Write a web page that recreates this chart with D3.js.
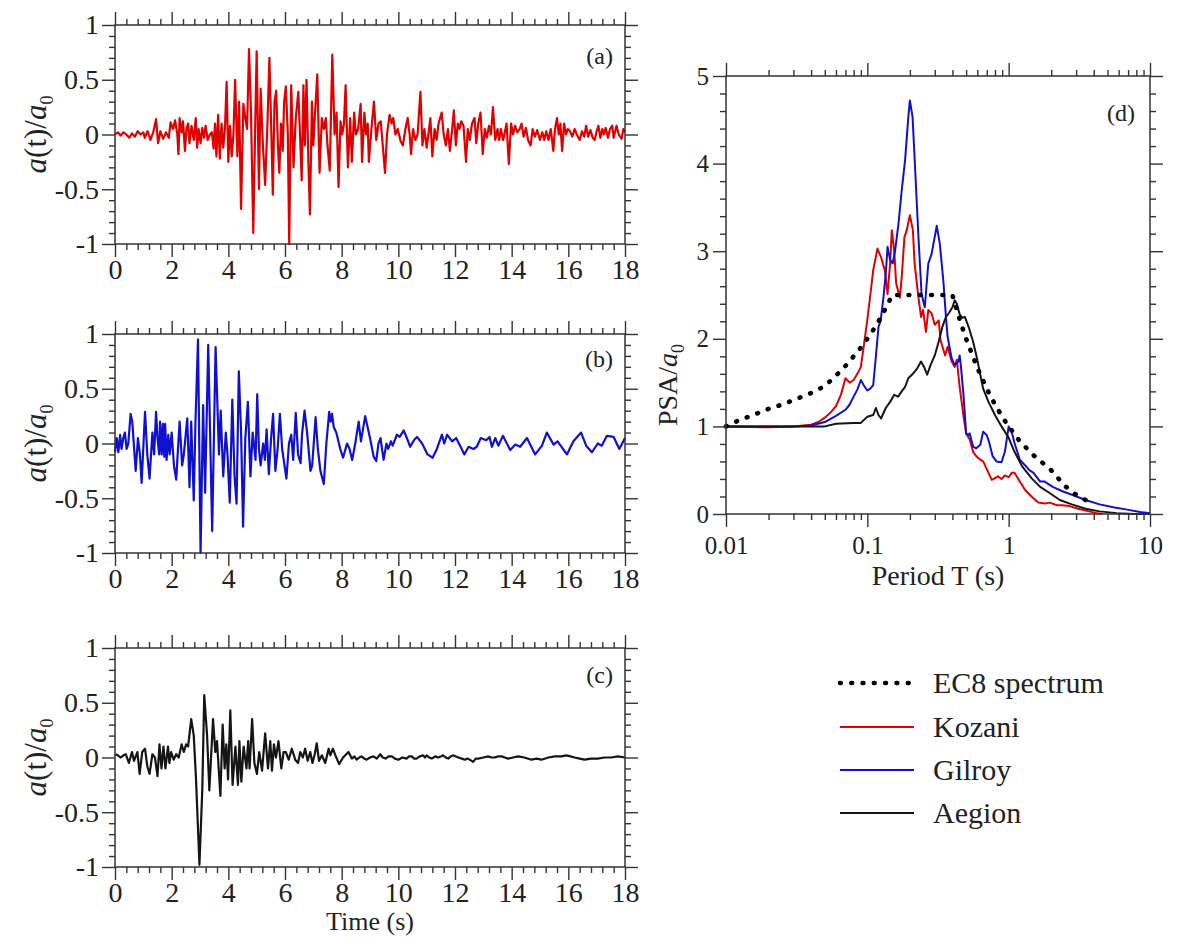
<!DOCTYPE html>
<html>
<head>
<meta charset="utf-8">
<script src="https://cdn.jsdelivr.net/npm/d3@7"></script>
<style>
  body { margin: 0; background: #fff; }
  svg { display: block; }
  text { font-family: "Liberation Serif", "Times New Roman", serif; fill: #222; }
</style>
</head>
<body>
<svg id="chart" width="1182" height="941"></svg>
<script>
// ---- Normalised acceleration histories a(t)/a0, as [time (s), value] vertices ----
const kozaniAcc = [[0,0],[0.1,0.02],[0.2,-0.01],[0.3,0.02],[0.4,0],[0.5,-0.03],[0.6,0.01],[0.7,-0.02],[0.8,0.03],[0.9,0.0],[1.0,0.02],[1.05,-0.03],[1.15,0.03],[1.25,-0.05],[1.35,0.02],[1.45,0.14],[1.52,-0.08],[1.6,0.03],[1.7,-0.04],[1.8,0.02],[1.9,-0.03],[1.96,0.11],[2.05,0.05],[2.12,0.13],[2.2,0.0],[2.24,-0.18],[2.28,0.15],[2.35,0.02],[2.4,0.12],[2.47,-0.15],[2.52,0.05],[2.58,0.1],[2.63,-0.08],[2.7,0.08],[2.78,-0.05],[2.85,0.15],[2.9,-0.12],[2.95,0.05],[3.02,-0.08],[3.08,0.06],[3.14,-0.03],[3.2,0.08],[3.27,-0.05],[3.35,0.0],[3.42,0.02],[3.48,-0.13],[3.53,0.1],[3.58,-0.2],[3.64,0.18],[3.7,-0.22],[3.76,0.1],[3.82,-0.12],[3.88,0.05],[3.94,0.48],[4.0,-0.25],[4.06,0.08],[4.12,-0.2],[4.18,0.0],[4.24,0.5],[4.32,-0.2],[4.38,0.3],[4.45,-0.68],[4.53,0.28],[4.6,0.15],[4.66,0.05],[4.73,0.78],[4.8,0.2],[4.88,-0.9],[4.95,0.1],[5.0,0.76],[5.08,-0.5],[5.14,0.42],[5.22,-0.1],[5.3,-0.46],[5.38,0.1],[5.45,0.7],[5.52,0.0],[5.57,-0.55],[5.63,0.3],[5.69,0.4],[5.75,-0.1],[5.8,-0.35],[5.86,0.1],[5.92,-0.15],[5.97,0.3],[6.03,0.44],[6.1,0.0],[6.15,-1.0],[6.22,0.45],[6.3,-0.3],[6.38,0.15],[6.47,0.39],[6.53,0.0],[6.59,-0.42],[6.65,0.45],[6.7,-0.1],[6.76,0.5],[6.82,-0.2],[6.88,-0.73],[6.95,0.3],[7.0,-0.1],[7.05,0.15],[7.14,0.55],[7.22,-0.35],[7.3,0.15],[7.37,0.05],[7.44,0.15],[7.5,-0.1],[7.58,-0.33],[7.67,0.73],[7.75,0.0],[7.82,0.2],[7.89,-0.48],[7.96,0.12],[8.02,0.0],[8.08,0.1],[8.14,0.45],[8.22,-0.3],[8.3,0.15],[8.36,-0.25],[8.44,0.2],[8.5,0.0],[8.58,0.05],[8.67,0.28],[8.72,-0.25],[8.8,0.2],[8.86,0.0],[8.92,0.1],[8.96,-0.25],[9.05,0.05],[9.14,0.3],[9.22,-0.05],[9.3,0.1],[9.38,0.12],[9.45,-0.1],[9.53,-0.35],[9.6,0.0],[9.69,0.18],[9.76,0.1],[9.82,0.15],[9.9,0.0],[9.98,0.05],[10.08,-0.06],[10.16,-0.1],[10.25,0.05],[10.33,0.15],[10.4,0.0],[10.45,-0.18],[10.52,0.05],[10.6,-0.05],[10.68,0.0],[10.78,0.39],[10.85,-0.1],[10.92,0.05],[11.0,-0.12],[11.06,0.0],[11.13,0.15],[11.2,-0.2],[11.28,0.05],[11.35,-0.05],[11.42,0.1],[11.53,0.2],[11.6,0.0],[11.68,-0.1],[11.75,0.05],[11.82,-0.15],[11.9,0.05],[11.96,0.22],[12.03,-0.1],[12.1,0.1],[12.16,0.05],[12.22,0.12],[12.3,0.08],[12.39,-0.25],[12.45,0.05],[12.52,-0.05],[12.6,0.1],[12.69,0.15],[12.75,-0.08],[12.82,0.1],[12.9,0.2],[12.98,-0.18],[13.05,0.05],[13.12,-0.03],[13.2,0.08],[13.27,0.0],[13.34,0.25],[13.42,-0.05],[13.5,0.05],[13.56,-0.05],[13.62,0.05],[13.7,-0.05],[13.76,0.02],[13.82,0.1],[13.9,-0.27],[13.98,0.1],[14.05,0.0],[14.12,0.08],[14.2,0.02],[14.28,0.05],[14.35,0.1],[14.42,-0.02],[14.5,0.06],[14.58,-0.05],[14.67,-0.1],[14.74,0.05],[14.82,-0.02],[14.9,0.04],[15.0,-0.05],[15.08,0.02],[15.15,-0.05],[15.22,0.03],[15.3,-0.05],[15.38,0.05],[15.47,-0.15],[15.53,0.05],[15.6,0.15],[15.66,0.0],[15.72,0.1],[15.78,-0.15],[15.85,0.1],[15.92,0.0],[15.98,0.05],[16.06,0.03],[16.14,-0.02],[16.22,0.05],[16.3,0.0],[16.4,-0.05],[16.48,0.03],[16.56,-0.02],[16.63,0.08],[16.7,-0.02],[16.78,0.04],[16.86,-0.03],[16.93,-0.05],[17.0,0.03],[17.06,0.08],[17.13,-0.03],[17.2,0.05],[17.25,0.0],[17.32,0.06],[17.4,-0.03],[17.47,0.05],[17.55,0.08],[17.6,-0.03],[17.7,0.08],[17.78,0.0],[17.88,-0.04],[17.94,0.05],[18.0,0.02]];

const gilroyAcc = [[0,-0.08],[0.06,0.05],[0.12,-0.08],[0.18,0.08],[0.23,-0.05],[0.29,0.05],[0.35,0.1],[0.41,-0.05],[0.47,0.0],[0.55,0.27],[0.61,0.2],[0.73,-0.25],[0.81,0.05],[0.88,-0.1],[0.94,-0.36],[1.06,0.29],[1.14,-0.1],[1.22,-0.32],[1.32,0.1],[1.38,-0.1],[1.45,0.29],[1.5,0.05],[1.56,-0.1],[1.59,0.2],[1.65,-0.1],[1.69,0.18],[1.74,-0.12],[1.77,0.18],[1.82,-0.15],[1.88,0.08],[1.93,-0.1],[2.0,0.1],[2.08,-0.2],[2.16,-0.33],[2.28,0.2],[2.37,-0.2],[2.43,-0.1],[2.55,0.23],[2.63,-0.4],[2.69,0.2],[2.78,-0.52],[2.84,0.2],[2.93,0.95],[3.02,-1.0],[3.11,0.35],[3.18,-0.45],[3.29,0.9],[3.43,-0.8],[3.55,0.88],[3.67,-0.1],[3.73,0.3],[3.82,-0.3],[3.91,0.1],[3.97,-0.1],[4.05,-0.54],[4.14,0.4],[4.22,-0.3],[4.29,-0.55],[4.37,0.66],[4.45,0.1],[4.52,-0.76],[4.6,0.05],[4.69,0.38],[4.78,-0.3],[4.86,0.1],[4.96,-0.15],[5.02,0.45],[5.08,-0.05],[5.14,-0.2],[5.23,0.0],[5.29,-0.15],[5.35,0.13],[5.43,-0.28],[5.51,0.05],[5.58,0.27],[5.66,-0.25],[5.74,-0.05],[5.82,0.27],[5.9,-0.05],[6.05,-0.32],[6.14,0.0],[6.22,0.08],[6.29,-0.15],[6.38,0.28],[6.46,-0.1],[6.55,-0.18],[6.6,0.08],[6.69,0.3],[6.78,0.1],[6.9,-0.25],[6.96,-0.2],[7.08,0.24],[7.16,-0.05],[7.25,-0.25],[7.37,-0.37],[7.46,0.0],[7.56,0.29],[7.61,0.2],[7.66,0.27],[7.72,0.15],[7.81,0.1],[7.95,-0.05],[8.05,-0.13],[8.19,0.0],[8.28,-0.05],[8.37,-0.15],[8.48,0.0],[8.6,0.2],[8.68,0.02],[8.83,0.25],[9.0,0.05],[9.13,-0.12],[9.22,-0.16],[9.3,0.0],[9.37,0.05],[9.48,-0.15],[9.58,0.0],[9.64,-0.05],[9.74,0.02],[9.8,-0.02],[9.95,0.08],[10.05,0.06],[10.19,0.12],[10.3,0.05],[10.42,-0.03],[10.55,0.03],[10.66,0.06],[10.84,0.0],[11.03,-0.1],[11.21,-0.13],[11.36,-0.05],[11.54,0.08],[11.62,0.0],[11.72,0.08],[11.9,0.02],[12.04,0.05],[12.18,-0.02],[12.33,-0.1],[12.48,-0.03],[12.65,-0.05],[12.77,-0.03],[12.91,0.05],[13.1,0.03],[13.22,0.06],[13.3,-0.03],[13.42,0.05],[13.53,-0.02],[13.69,0.07],[13.95,-0.06],[14.13,-0.01],[14.3,-0.03],[14.54,0.05],[14.83,-0.1],[15.07,-0.02],[15.24,0.1],[15.48,-0.01],[15.62,0.02],[15.95,-0.1],[16.18,0.02],[16.45,0.1],[16.63,-0.02],[16.83,-0.08],[17.04,0.0],[17.18,-0.02],[17.36,0.07],[17.6,0.06],[17.8,-0.05],[18.0,0.05]];

const aegionAcc = [[0,0.03],[0.1,0.02],[0.2,0.0],[0.3,0.02],[0.38,0.03],[0.49,-0.05],[0.6,0.05],[0.67,-0.03],[0.79,0.05],[0.87,-0.15],[0.96,0.05],[1.06,0.08],[1.14,-0.08],[1.22,-0.15],[1.32,0.03],[1.41,0.0],[1.5,-0.17],[1.57,0.12],[1.64,-0.1],[1.71,0.1],[1.78,-0.1],[1.87,0.1],[1.92,-0.05],[1.98,0.05],[2.07,-0.02],[2.16,0.03],[2.25,0.0],[2.35,0.12],[2.43,0.05],[2.51,0.12],[2.58,0.1],[2.69,0.35],[2.78,0.2],[2.86,-0.2],[2.98,-0.98],[3.08,-0.3],[3.15,0.57],[3.25,0.2],[3.33,-0.3],[3.46,0.35],[3.54,0.05],[3.6,0.15],[3.72,-0.35],[3.8,0.3],[3.87,-0.1],[3.93,0.12],[3.99,-0.2],[4.07,0.43],[4.15,-0.25],[4.25,0.1],[4.34,-0.25],[4.39,0.15],[4.46,-0.22],[4.54,0.1],[4.64,-0.1],[4.7,0.15],[4.75,-0.1],[4.84,0.35],[4.92,-0.05],[5.01,-0.15],[5.09,0.05],[5.19,-0.12],[5.3,0.22],[5.4,-0.1],[5.48,0.15],[5.54,-0.12],[5.61,0.12],[5.68,0.0],[5.77,0.15],[5.87,-0.1],[5.95,0.05],[6.03,0.05],[6.13,-0.02],[6.24,0.08],[6.36,-0.02],[6.46,-0.05],[6.54,0.05],[6.63,0.0],[6.71,0.08],[6.8,-0.03],[6.89,0.05],[6.97,-0.05],[7.05,0.03],[7.12,0.13],[7.2,-0.03],[7.3,0.02],[7.42,-0.05],[7.54,0.08],[7.6,0.02],[7.69,0.08],[7.78,0.02],[7.91,-0.06],[8.05,0.0],[8.24,0.05],[8.36,-0.01],[8.45,0.01],[8.53,-0.02],[8.62,0.0],[8.7,0.01],[8.8,-0.01],[8.88,-0.02],[9.0,0.0],[9.12,0.01],[9.24,-0.01],[9.36,0.03],[9.45,0.0],[9.55,-0.01],[9.66,0.01],[9.77,0.01],[9.88,-0.01],[10.0,-0.02],[10.14,0.0],[10.29,-0.01],[10.38,0.01],[10.47,0.01],[10.56,-0.01],[10.64,-0.01],[10.76,0.01],[10.88,0.02],[10.94,0.0],[11.0,0.02],[11.09,0.0],[11.18,-0.01],[11.3,0.01],[11.41,0.0],[11.5,0.01],[11.58,0.02],[11.67,0.0],[11.76,-0.01],[11.85,0.01],[11.94,0.02],[12.03,0.01],[12.12,0.0],[12.24,-0.01],[12.35,-0.02],[12.44,-0.01],[12.52,-0.02],[12.64,-0.04],[12.73,-0.01],[12.82,-0.01],[13.0,0.0],[13.17,0.01],[13.28,0.0],[13.4,0.0],[13.52,0.01],[13.64,0.01],[13.76,0.0],[13.87,-0.01],[14.05,0.0],[14.23,0.01],[14.45,0.0],[14.7,-0.02],[14.88,-0.01],[15.05,-0.02],[15.3,0.0],[15.52,0.01],[15.75,0.01],[15.93,0.02],[16.08,0.01],[16.22,0.0],[16.4,-0.01],[16.57,-0.02],[16.8,-0.01],[17.04,-0.01],[17.28,0.0],[17.51,0.0],[17.75,0.01],[18.0,0.0]];

// ---- Normalised pseudo-spectral acceleration PSA/a0 vs period T (s) ----
const ec8Period = [0.01,0.012,0.015,0.02,0.025,0.03,0.04,0.05,0.06,0.07,0.08,0.09,0.1,0.11,0.12,0.13,0.14,0.15,0.2,0.3,0.4,0.45,0.5,0.6,0.7,0.8,0.9,1.0,1.2,1.5,2.0,2.5,3.0,3.5,4.0];
const ec8PSA    = [1.0,1.06,1.12,1.2,1.25,1.3,1.38,1.46,1.58,1.69,1.8,1.9,2.0,2.1,2.2,2.3,2.4,2.5,2.5,2.5,2.5,2.22,2.0,1.67,1.43,1.25,1.11,1.0,0.83,0.67,0.5,0.32,0.22,0.16,0.13];

const kozaniPeriod = [0.01,0.02,0.03,0.04,0.045,0.05,0.055,0.06,0.065,0.07,0.075,0.08,0.085,0.09,0.095,0.1,0.105,0.11,0.118,0.125,0.133,0.139,0.145,0.149,0.155,0.16,0.17,0.175,0.183,0.19,0.2,0.21,0.216,0.23,0.24,0.248,0.26,0.27,0.285,0.3,0.32,0.33,0.355,0.37,0.395,0.415,0.43,0.45,0.48,0.5,0.53,0.56,0.59,0.63,0.66,0.72,0.76,0.8,0.84,0.89,0.94,1.0,1.05,1.1,1.2,1.3,1.45,1.62,1.8,1.95,2.2,2.4,2.7,3.1,3.7,4.2,4.6];
const kozaniPSA    = [1.0,0.99,1.0,1.02,1.05,1.1,1.16,1.23,1.36,1.55,1.5,1.53,1.6,1.68,1.95,2.22,2.5,2.78,3.03,2.93,2.78,2.51,2.86,3.24,3.0,2.63,2.47,2.7,3.16,3.24,3.41,3.24,2.86,2.47,2.25,2.33,2.08,2.33,2.29,2.16,2.21,1.98,1.81,1.91,1.74,1.68,1.76,1.45,1.11,0.92,0.85,0.71,0.66,0.62,0.6,0.47,0.39,0.41,0.43,0.4,0.44,0.42,0.47,0.47,0.37,0.28,0.2,0.13,0.12,0.13,0.1,0.1,0.09,0.06,0.03,0.01,0.0];

const gilroyPeriod = [0.01,0.03,0.04,0.05,0.06,0.07,0.075,0.08,0.085,0.09,0.095,0.1,0.105,0.11,0.115,0.12,0.124,0.13,0.135,0.139,0.145,0.151,0.157,0.166,0.175,0.185,0.195,0.2,0.209,0.217,0.23,0.242,0.255,0.27,0.285,0.31,0.326,0.345,0.36,0.37,0.395,0.415,0.44,0.45,0.46,0.48,0.5,0.52,0.53,0.56,0.59,0.63,0.66,0.7,0.73,0.77,0.82,0.89,0.94,1.0,1.05,1.1,1.2,1.3,1.4,1.5,1.67,1.8,2.05,2.4,2.8,3.5,4.4,5.5,6.9,8.5,10];
const gilroyPSA    = [1.0,1.0,1.01,1.05,1.12,1.19,1.25,1.34,1.42,1.53,1.46,1.41,1.43,1.47,1.8,2.14,2.2,2.47,2.74,3.05,2.9,2.86,3.0,3.31,3.69,4.04,4.53,4.72,4.53,4.0,3.16,2.51,2.36,2.86,2.97,3.29,3.08,2.66,2.25,2.02,1.78,1.7,1.74,1.81,1.68,1.34,0.92,0.9,0.92,0.77,0.75,0.79,0.94,0.9,0.81,0.66,0.6,0.59,0.71,1.0,0.94,0.81,0.62,0.56,0.5,0.47,0.37,0.37,0.31,0.26,0.22,0.16,0.11,0.076,0.05,0.023,0.01];

const aegionPeriod = [0.01,0.05,0.06,0.08,0.09,0.1,0.11,0.115,0.12,0.125,0.135,0.145,0.155,0.165,0.175,0.185,0.195,0.21,0.225,0.24,0.255,0.265,0.28,0.3,0.32,0.34,0.36,0.38,0.4,0.415,0.43,0.45,0.47,0.49,0.52,0.56,0.6,0.63,0.66,0.72,0.8,0.89,1.0,1.1,1.25,1.45,1.67,1.95,2.3,2.8,3.5,4.4,5.8,7.7,10];
const aegionPSA    = [1.0,1.0,1.03,1.04,1.04,1.11,1.13,1.21,1.13,1.09,1.21,1.28,1.36,1.34,1.4,1.45,1.55,1.6,1.66,1.74,1.66,1.59,1.7,1.81,1.97,2.14,2.25,2.3,2.36,2.44,2.4,2.28,2.24,2.25,2.14,1.97,1.76,1.59,1.43,1.28,1.13,1.0,0.87,0.71,0.54,0.41,0.31,0.24,0.16,0.11,0.06,0.03,0.01,0.0,0.0];

// ---- Axis tick labels ----
const timeTicks = [0,2,4,6,8,10,12,14,16,18];
const accTicks = [-1,-0.5,0,0.5,1];
const periodTicks = [0.01,0.1,1,10];
const psaTicks = [0,1,2,3,4,5];

const legendNames = ["EC8 spectrum","Kozani","Gilroy","Aegion"];
const colors = { Kozani: "#e00000", Gilroy: "#1010d0", Aegion: "#151515", EC8: "#000" };

const svg = d3.select("#chart");
const AXIS = "#333";
const MAJ = 13, MIN = 6;

const fmtSigned = d => (d < 0 ? "-" : "") + Math.abs(d);

// draw ticks (outward) on all four sides plus a frame
function drawFrame(g, x, y, o) {
  const [x0, x1] = x.range();
  const [y0, y1] = y.range(); // y0 = bottom, y1 = top
  const sides = [
    { gen: d3.axisBottom, sc: x, tr: `translate(0,${y0})`, maj: o.xMajor, min: o.xMinor, lab: true, fmt: o.xFmt, fs: o.fs, pad: o.xPad },
    { gen: d3.axisTop, sc: x, tr: `translate(0,${y1})`, maj: o.xMajor, min: o.xMinor, lab: false },
    { gen: d3.axisLeft, sc: y, tr: `translate(${x0},0)`, maj: o.yMajor, min: o.yMinor, lab: true, fmt: o.yFmt, fs: o.fs, pad: o.yPad },
    { gen: d3.axisRight, sc: y, tr: `translate(${x1},0)`, maj: o.yMajor, min: o.yMinor, lab: false }
  ];
  sides.forEach(s => {
    const gm = g.append("g").attr("transform", s.tr)
      .call(s.gen(s.sc).tickValues(s.min).tickSize(MIN).tickFormat(""));
    const gM = g.append("g").attr("transform", s.tr)
      .call(s.gen(s.sc).tickValues(s.maj).tickSize(MAJ)
        .tickPadding(s.lab ? s.pad : 0)
        .tickFormat(s.lab ? s.fmt : ""));
    [gm, gM].forEach(a => {
      a.select(".domain").remove();
      a.selectAll("line").attr("stroke", AXIS).attr("stroke-width", 1.4);
      a.selectAll("text").attr("font-size", s.fs).attr("fill", "#222")
        .attr("font-family", '"Liberation Serif","Times New Roman",serif');
    });
  });
  g.append("rect").attr("x", x0).attr("y", y1).attr("width", x1 - x0).attr("height", y0 - y1)
    .attr("fill", "none").attr("stroke", AXIS).attr("stroke-width", 1.5);
}

// ---- Time-history panels ----
const tLeft = 115, tRight = 625;
const panels = [
  { data: kozaniAcc, color: colors.Kozani, top: 25, bottom: 244, tag: "(a)", tagDy: 39 },
  { data: gilroyAcc, color: colors.Gilroy, top: 334, bottom: 553, tag: "(b)", tagDy: 33 },
  { data: aegionAcc, color: colors.Aegion, top: 648, bottom: 867, tag: "(c)", tagDy: 35 }
];

const timeMinor = d3.range(0, 18.001, 0.4).map(v => +v.toFixed(2)).filter(v => Math.abs(v / 2 - Math.round(v / 2)) > 1e-6);
const accMinor = d3.range(-1, 1.001, 0.1).map(v => +v.toFixed(2)).filter(v => Math.abs(v * 2 - Math.round(v * 2)) > 1e-6);

panels.forEach(p => {
  const x = d3.scaleLinear().domain([0, 18]).range([tLeft, tRight]);
  const y = d3.scaleLinear().domain([-1, 1]).range([p.bottom, p.top]);
  const g = svg.append("g");

  g.append("path")
    .datum(p.data)
    .attr("fill", "none")
    .attr("stroke", p.color)
    .attr("stroke-width", 2.2)
    .attr("stroke-linejoin", "round")
    .attr("d", d3.line().x(d => x(d[0])).y(d => y(d[1])));

  drawFrame(g, x, y, {
    xMajor: timeTicks, xMinor: timeMinor, yMajor: accTicks, yMinor: accMinor,
    xFmt: d => String(d), yFmt: fmtSigned, fs: 28, xPad: 2, yPad: 3
  });

  g.append("text").attr("x", 613).attr("y", p.top + p.tagDy)
    .attr("text-anchor", "end").attr("font-size", 24).text(p.tag);

  // y-axis title a(t)/a0
  const cy = (p.top + p.bottom) / 2;
  const yl = g.append("text").attr("transform", `translate(46,${cy}) rotate(-90)`)
    .attr("text-anchor", "middle").attr("font-size", 31);
  yl.append("tspan").attr("font-style", "italic").text("a");
  yl.append("tspan").text("(t)/");
  yl.append("tspan").attr("font-style", "italic").text("a");
  yl.append("tspan").attr("font-size", 18).attr("dy", 7).text("0");
});

svg.append("text").attr("x", (tLeft + tRight) / 2).attr("y", 930)
  .attr("text-anchor", "middle").attr("font-size", 26).text("Time (s)");

// ---- Response spectra panel (d) ----
const sx = d3.scaleLog().domain([0.01, 10]).range([726, 1150]);
const sy = d3.scaleLinear().domain([0, 5]).range([514, 76]);
const gd = svg.append("g");

const periodMinor = [];
[0.01, 0.1, 1].forEach(dec => { for (let k = 2; k <= 9; k++) periodMinor.push(+(k * dec).toPrecision(3)); });
const psaMinor = d3.range(0, 5.001, 0.2).map(v => +v.toFixed(2)).filter(v => Math.abs(v - Math.round(v)) > 1e-6);

const specLine = d3.line().x(d => sx(d[0])).y(d => sy(d[1]));
const zip = (a, b) => a.map((v, i) => [v, b[i]]);

const spectra = [
  { name: "Kozani", data: zip(kozaniPeriod, kozaniPSA) },
  { name: "Gilroy", data: zip(gilroyPeriod, gilroyPSA) },
  { name: "Aegion", data: zip(aegionPeriod, aegionPSA) }
];
spectra.forEach(s => {
  gd.append("path").datum(s.data)
    .attr("fill", "none").attr("stroke", colors[s.name]).attr("stroke-width", 2)
    .attr("stroke-linejoin", "round").attr("d", specLine);
});
gd.append("path").datum(zip(ec8Period, ec8PSA))
  .attr("fill", "none").attr("stroke", colors.EC8).attr("stroke-width", 4.6)
  .attr("stroke-linecap", "round").attr("stroke-dasharray", "0.8,10.5").attr("d", specLine);

drawFrame(gd, sx, sy, {
  xMajor: periodTicks, xMinor: periodMinor, yMajor: psaTicks, yMinor: psaMinor,
  xFmt: d => String(d), yFmt: d => String(d), fs: 25, xPad: 9, yPad: 4
});

gd.append("text").attr("x", 1135).attr("y", 121).attr("text-anchor", "end")
  .attr("font-size", 24).text("(d)");

gd.append("text").attr("x", 938).attr("y", 585).attr("text-anchor", "middle")
  .attr("font-size", 28).text("Period T (s)");

const pl = gd.append("text").attr("transform", "translate(677,385) rotate(-90)")
  .attr("text-anchor", "middle").attr("font-size", 28);
pl.append("tspan").text("PSA/");
pl.append("tspan").attr("font-style", "italic").text("a");
pl.append("tspan").attr("font-size", 18).attr("dy", 7).text("0");

// ---- Legend ----
const lg = svg.append("g");
const legendY = [683, 727, 770, 813];
legendNames.forEach((name, i) => {
  const yy = legendY[i];
  const isEC8 = i === 0;
  lg.append("line").attr("x1", 840).attr("x2", 914).attr("y1", yy).attr("y2", yy)
    .attr("stroke", isEC8 ? colors.EC8 : colors[name])
    .attr("stroke-width", isEC8 ? 4.6 : 2.2)
    .attr("stroke-linecap", isEC8 ? "round" : "butt")
    .attr("stroke-dasharray", isEC8 ? "0.8,10.5" : null);
  lg.append("text").attr("x", 933).attr("y", yy + 10).attr("font-size", 30).text(name);
});
</script>
</body>
</html>
